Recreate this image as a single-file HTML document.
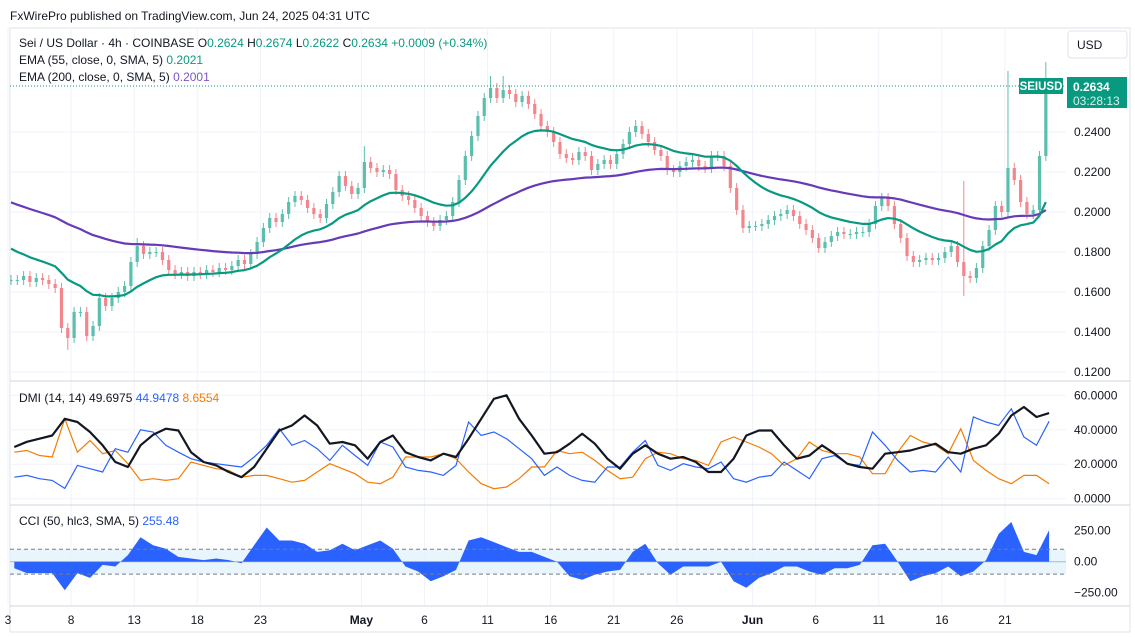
<!DOCTYPE html>
<html><head><meta charset="utf-8"><style>
html,body{margin:0;padding:0;background:#fff;width:1135px;height:637px;overflow:hidden;font-family:"Liberation Sans",sans-serif;}
svg text{font-family:"Liberation Sans",sans-serif;}
</style></head><body>
<svg id="chart" width="1135" height="637" viewBox="0 0 1135 637" xmlns="http://www.w3.org/2000/svg">
<defs>
<clipPath id="cMain"><rect x="10" y="28" width="1056" height="352"/></clipPath>
<clipPath id="cDmi"><rect x="10" y="382" width="1056" height="122"/></clipPath>
<clipPath id="cCci"><rect x="10" y="506" width="1056" height="100"/></clipPath>
</defs>
<text x="10" y="20" font-size="12" fill="#131722">FxWirePro published on TradingView.com, Jun 24, 2025 04:31 UTC</text>
<rect x="10" y="28" width="1120" height="604" fill="none" stroke="#e0e3eb"/>
<g id="grid"></g>
<g id="mainG" clip-path="url(#cMain)"></g>
<g id="dmiG" clip-path="url(#cDmi)"></g>
<g id="cciG" clip-path="url(#cCci)"></g>
<g id="axes"></g>
<line x1="10" y1="381" x2="1130" y2="381" stroke="#d1d4dc"/>
<line x1="10" y1="505" x2="1130" y2="505" stroke="#d1d4dc"/>
<line x1="10" y1="606" x2="1130" y2="606" stroke="#d1d4dc"/>
<g font-size="12">
<text x="19" y="47" fill="#131722">Sei / US Dollar · 4h · COINBASE <tspan fill="#131722">O</tspan><tspan fill="#089981">0.2624</tspan> <tspan fill="#131722">H</tspan><tspan fill="#089981">0.2674</tspan> <tspan fill="#131722">L</tspan><tspan fill="#089981">0.2622</tspan> <tspan fill="#131722">C</tspan><tspan fill="#089981">0.2634 +0.0009 (+0.34%)</tspan></text>
<text x="19" y="64" fill="#131722">EMA (55, close, 0, SMA, 5) <tspan fill="#089981">0.2021</tspan></text>
<text x="19" y="81" fill="#131722">EMA (200, close, 0, SMA, 5) <tspan fill="#7e57c2">0.2001</tspan></text>
</g>
<text x="19" y="402" font-size="12" fill="#131722">DMI (14, 14) 49.6975 <tspan fill="#2962ff">44.9478</tspan> <tspan fill="#f57c00">8.6554</tspan></text>
<text x="19" y="525" font-size="12" fill="#131722">CCI (50, hlc3, SMA, 5) <tspan fill="#2962ff">255.48</tspan></text>
<g><rect x="1068" y="31" width="59" height="27" rx="3" fill="#fff" stroke="#e0e3eb"/><text x="1077" y="49" font-size="12" fill="#131722">USD</text></g>
<line x1="10" y1="86" x2="1066" y2="86" stroke="#089981" stroke-dasharray="1,2"/>
<g><rect x="1019" y="78" width="44" height="16" fill="#089981"/><text x="1041" y="90" font-size="11.5" font-weight="bold" fill="#fff" text-anchor="middle">SEIUSD</text></g>
<g><rect x="1067" y="77" width="60" height="31" fill="#089981"/><text x="1073" y="91" font-size="12" font-weight="bold" fill="#fff">0.2634</text><text x="1073" y="105" font-size="12" fill="#d8f0ea">03:28:13</text></g>
</svg>
<script>
const closes=[0.166,0.166,0.168,0.165,0.167,0.166,0.164,0.162,0.142,0.137,0.150,0.150,0.138,0.143,0.157,0.153,0.157,0.160,0.163,0.175,
0.183,0.179,0.180,0.180,0.176,0.171,0.169,0.170,0.168,0.170,0.169,0.171,0.170,0.172,0.171,0.173,0.176,0.174,0.179,0.185,
0.192,0.197,0.195,0.199,0.205,0.208,0.206,0.202,0.199,0.197,0.204,0.210,0.218,0.213,0.209,0.212,0.225,0.222,0.220,0.221,
0.219,0.211,0.208,0.206,0.202,0.198,0.195,0.193,0.196,0.198,0.205,0.216,0.228,0.238,0.248,0.257,0.262,0.257,0.261,0.259,
0.255,0.258,0.254,0.249,0.243,0.240,0.235,0.229,0.227,0.226,0.230,0.228,0.221,0.224,0.226,0.224,0.229,0.234,0.240,0.243,
0.239,0.235,0.231,0.228,0.221,0.220,0.223,0.225,0.226,0.223,0.222,0.228,0.228,0.223,0.212,0.201,0.192,0.193,0.193,0.194,
0.196,0.198,0.199,0.201,0.198,0.194,0.191,0.187,0.182,0.185,0.188,0.190,0.189,0.189,0.190,0.190,0.194,0.203,0.207,0.203,
0.194,0.187,0.178,0.175,0.176,0.177,0.176,0.177,0.180,0.183,0.175,0.168,0.167,0.172,0.183,0.191,0.203,0.200,0.222,0.216,
0.205,0.199,0.201,0.228,0.2634];
const firstOpen=0.166;
const spikeIdx=[9,20,56,76,78,99,151,151,158,164];
const spikeHigh=[null,0.187,0.233,0.268,0.268,0.246,0.2155,null,0.2705,0.275];
const spikeLow=[0.131,null,null,null,null,null,null,0.158,null,null];
const emaSeed55=0.1835, emaSeed200=0.206;
const adx=[30,33,34.8,36.7,46.4,44.5,38.7,31,21.3,18.4,31,37.1,40.6,39.6,27,21.3,19.3,15.5,12.5,18.4,29,39.6,42.5,48.3,42.5,31.9,32.9,31,23.2,32.9,36.7,27,24.2,22.2,26.1,24.2,34.8,46.4,58,60,46.4,36.7,26.1,
27,31.9,37.7,31.9,23.2,17.4,26.1,31,26.1,23.2,24.2,21.3,15.5,15.5,23.2,36.7,39.6,39.6,31,23.2,25.1,31,26.1,20.3,18.4,17.4,26.1,27,28,30,31.9,27,26.1,29,31,37.7,48.3,53.2,47.4,49.7];
const diPlus=[12.5,13.5,11.6,10.6,6,19.3,17.4,15.5,29,27,40,38.7,31,27,23.2,21.3,20.3,19.3,18.4,24.2,31,40.6,31,33.8,29,22.2,31,25.1,19.3,32.9,30,18.4,16.4,15.5,13.5,19.3,44.5,36.7,38.7,34.8,29,23.2,13.5,
18.4,13.5,10.6,9.6,18.4,18.4,27,33.8,19.3,16.4,20.3,18.4,17.4,21.3,11.6,9.6,12.5,13.5,21.3,16.4,11.6,23.2,25.1,20.3,19.3,38.7,31,22.2,15.5,16.4,15.5,24.2,15.5,47.4,44.5,42.5,52.2,35.8,31,44.9];
const diMinus=[27,28,25.1,24.2,46.4,27,33.8,26.1,28,20.3,10.6,11.6,10.6,11.6,21.3,19.3,17.4,16.4,12.5,13.5,13.5,11.6,9.6,10.6,15.5,20.3,17.4,14.5,9.6,8.7,12.5,24.2,24.2,24.2,26.1,23.2,15.5,8.7,5.8,6.8,11.6,18.4,18.4,
28,26.1,27,22.2,16.4,11.6,12.5,23.2,27,26.1,23.2,22.2,19.3,32.9,35.8,32.9,30,26.1,19.3,23.2,32.9,28,26.1,26.1,24.2,14.5,14.5,27,36.7,32.9,31,26.1,40.6,22.2,16.4,11.6,8.7,13.5,13.5,8.7];
const cci=[-53,-92,-92,-92,-230,-92,-131,-26,-39,53,197,132,105,39,26,13,26,13,-13,132,276,171,171,145,79,92,145,92,132,171,105,-39,-79,-158,-118,-66,171,197,158,118,79,79,39,
0,-118,-145,-105,-79,-66,79,145,-13,-105,-39,-39,-39,0,-158,-210,-131,-92,-39,-39,-79,-105,-53,-53,-26,132,145,0,-158,-118,-92,-39,-118,-79,13,224,320,79,53,255];
const priceTicks=[0.24,0.22,0.20,0.18,0.16,0.14,0.12];
const dmiTicks=[60,40,20,0];
const cciTicks=[250,0,-250];
const dateLabels=["3","8","13","18","23","May","6","11","16","21","26","Jun","6","11","16","21"];
const dateDays=[0,5,10,15,20,28,33,38,43,48,53,59,64,69,74,79];

const NS="http://www.w3.org/2000/svg";
function mk(p,tag,attrs){const e=document.createElementNS(NS,tag);for(const k in attrs)e.setAttribute(k,attrs[k]);p.appendChild(e);return e;}
const dayX=d=>8+d*12.62;
const candleX=i=>dayX(i/2)+3;
const yP=p=>132+(0.24-p)*2000;
const yD=v=>498.7-v*1.723;
const yC=v=>561.7-v*0.124;
const grid=document.getElementById('grid'),axes=document.getElementById('axes');
const mainG=document.getElementById('mainG'),dmiG=document.getElementById('dmiG'),cciG=document.getElementById('cciG');

// grid + axis labels
dateDays.forEach((d,k)=>{
  const x=dayX(d);
  const gl=mk(grid,'line',{x1:x,y1:28,x2:x,y2:606,stroke:'#f0f3fa'});
  
  
  const t=mk(axes,'text',{x:x,y:624,'font-size':12,fill:'#131722','text-anchor':'middle','font-weight':(dateLabels[k]==='May'||dateLabels[k]==='Jun')?'bold':'normal'});
  t.textContent=dateLabels[k];
  
  
});
priceTicks.forEach(v=>{
  const y=yP(v);
  const gl=mk(grid,'line',{x1:10,y1:y,x2:1066,y2:y,stroke:'#f0f3fa'});
  
  
  const t=mk(axes,'text',{x:1074,y:y+4,'font-size':12,fill:'#131722'});
  t.textContent=v.toFixed(4);
  
  
});
dmiTicks.forEach(v=>{
  const y=yD(v);
  const gl=mk(grid,'line',{x1:10,y1:y,x2:1066,y2:y,stroke:'#f0f3fa'});
  
  
  const t=mk(axes,'text',{x:1074,y:y+4,'font-size':12,fill:'#131722'});
  t.textContent=v.toFixed(4);
  
  
});
cciTicks.forEach(v=>{
  const y=yC(v);
  const t=mk(axes,'text',{x:1074,y:y+4,'font-size':12,fill:'#131722'});
  t.textContent=(v<0?'\u2212'+Math.abs(v).toFixed(2):v.toFixed(2));
  
  
});

// candles
let prev=firstOpen;
closes.forEach((c,i)=>{
  const o=prev;prev=c;
  let hi=Math.max(o,c)+0.0025,lo=Math.min(o,c)-0.0025;
  spikeIdx.forEach((s,k)=>{if(s===i){if(spikeHigh[k]!==null)hi=spikeHigh[k];if(spikeLow[k]!==null)lo=spikeLow[k];}});
  const up=c>=o,col=up?'#5cbfae':'#f3868c',x=candleX(i);
  const w=mk(mainG,'line',{x1:x,y1:yP(hi),x2:x,y2:yP(lo),stroke:col,'stroke-width':1});
  
  
  const top=yP(Math.max(o,c)),h=Math.max(1,Math.abs(yP(o)-yP(c)));
  const b=mk(mainG,'rect',{x:x-1.6,y:top,width:3.2,height:h,fill:col});
  
  
});
// EMAs
function ema(seed,alpha){let v=seed;return closes.map(c=>(v=v+alpha*(c-v)));}
const e55=ema(emaSeed55,0.104),e200=ema(emaSeed200,0.0295);
const ptsE=a=>a.map((v,i)=>candleX(i).toFixed(1)+','+yP(v).toFixed(1)).join(' ');
const l200=mk(mainG,'polyline',{points:ptsE(e200),fill:'none',stroke:'#673ab7','stroke-width':2.2,'stroke-linejoin':'round'});


const l55=mk(mainG,'polyline',{points:ptsE(e55),fill:'none',stroke:'#089981','stroke-width':2.2,'stroke-linejoin':'round'});



// DMI
const ptsD=a=>a.map((v,i)=>dayX(i+0.5).toFixed(1)+','+yD(v).toFixed(1)).join(' ');
const lm=mk(dmiG,'polyline',{points:ptsD(diMinus),fill:'none',stroke:'#f57c00','stroke-width':1.2});


const lp=mk(dmiG,'polyline',{points:ptsD(diPlus),fill:'none',stroke:'#2962ff','stroke-width':1.2});


const la=mk(dmiG,'polyline',{points:ptsD(adx),fill:'none',stroke:'#131722','stroke-width':2.2,'stroke-linejoin':'round'});



// CCI
const band=mk(cciG,'rect',{x:10,y:yC(100),width:1056,height:yC(-100)-yC(100),fill:'#e3f2fd',opacity:0.8});


const xs=cci.map((v,i)=>dayX(i+0.5));
let d='M'+xs[0].toFixed(1)+','+yC(0);
cci.forEach((v,i)=>{d+=' L'+xs[i].toFixed(1)+','+yC(v).toFixed(1);});
d+=' L'+xs[xs.length-1].toFixed(1)+','+yC(0)+' Z';
const area=mk(cciG,'path',{d:d,fill:'#2962ff'});


[100,-100].forEach(v=>{
  const l=mk(cciG,'line',{x1:10,y1:yC(v),x2:1066,y2:yC(v),stroke:'#787b86','stroke-dasharray':'4,3'});
  
  
});
const z=mk(cciG,'line',{x1:10,y1:yC(0),x2:1066,y2:yC(0),stroke:'#787b86','stroke-opacity':0.5});


</script>
</body></html>
